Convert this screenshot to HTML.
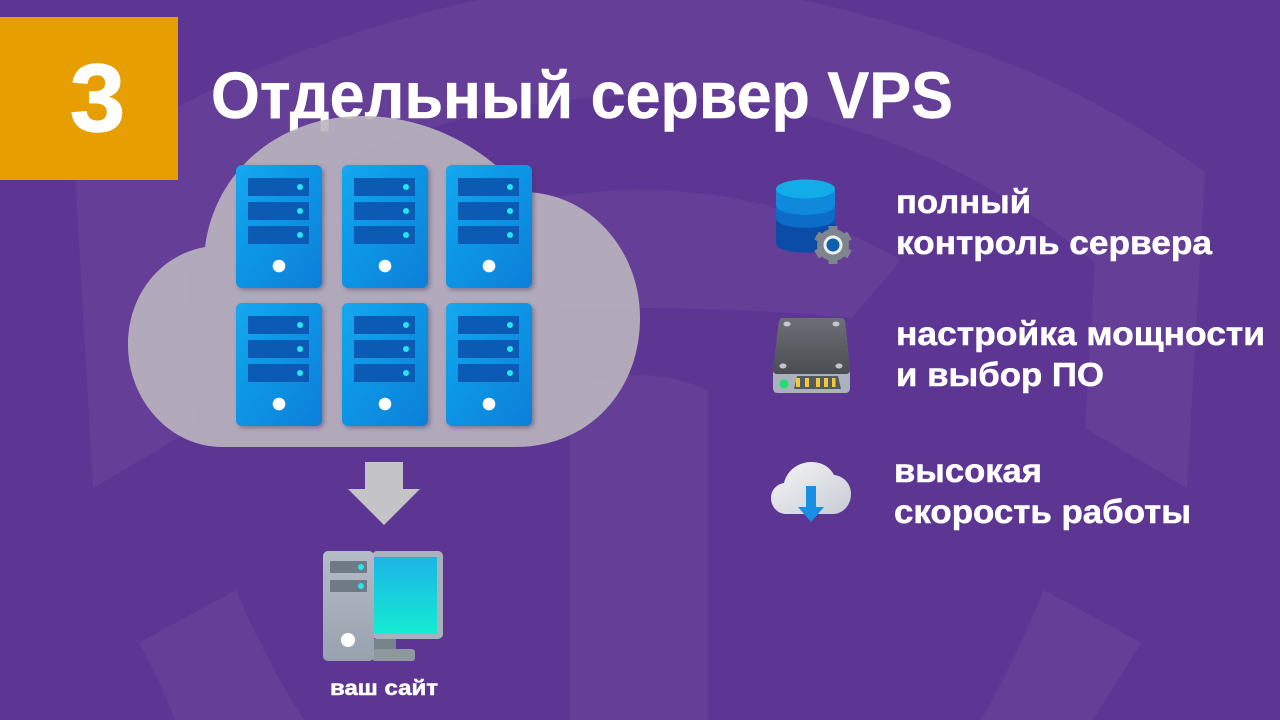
<!DOCTYPE html>
<html><head><meta charset="utf-8"><style>
html,body{margin:0;padding:0;width:1280px;height:720px;overflow:hidden;background:#5d3694}
svg{display:block}
text{font-family:"Liberation Sans","DejaVu Sans",sans-serif;font-weight:700;fill:#fff;stroke:#fff;stroke-width:.5px}
</style></head><body>
<svg width="1280" height="720" viewBox="0 0 1280 720" xmlns="http://www.w3.org/2000/svg">
<defs>
<linearGradient id="srv" x1="0" y1="0" x2="1" y2="1"><stop offset="0" stop-color="#12a8f0"/><stop offset="1" stop-color="#0f7fd8"/></linearGradient>
<linearGradient id="scr" x1="0" y1="0" x2="0" y2="1"><stop offset="0" stop-color="#1cb4e6"/><stop offset="1" stop-color="#14ecd2"/></linearGradient>
<linearGradient id="tower" x1="0" y1="0" x2="0" y2="1"><stop offset="0" stop-color="#b4bcc6"/><stop offset="1" stop-color="#98a2ae"/></linearGradient>
<linearGradient id="hdd" x1="0" y1="0" x2="0" y2="1"><stop offset="0" stop-color="#6c7076"/><stop offset="1" stop-color="#4a4d52"/></linearGradient>
<linearGradient id="cl" x1="0" y1="0" x2="1" y2="1"><stop offset="0" stop-color="#f4f5f7"/><stop offset="1" stop-color="#c8ccd4"/></linearGradient>
<filter id="sh" x="-20%" y="-20%" width="140%" height="140%"><feDropShadow dx="2" dy="2" stdDeviation="2" flood-color="#3a3060" flood-opacity=".45"/></filter>
<g id="s">
<rect x="0" y="0" width="86" height="123" rx="6" fill="url(#srv)" filter="url(#sh)"/>
<rect x="12" y="13" width="61" height="18" fill="#0b5bb4"/>
<rect x="12" y="37" width="61" height="18" fill="#0b5bb4"/>
<rect x="12" y="61" width="61" height="18" fill="#0b5bb4"/>
<circle cx="64" cy="22" r="3" fill="#22e6f4"/><circle cx="64" cy="46" r="3" fill="#22e6f4"/><circle cx="64" cy="70" r="3" fill="#22e6f4"/>
<circle cx="43" cy="101" r="6.3" fill="#fff"/>
</g>
</defs>
<rect width="1280" height="720" fill="#5d3694"/>
<!-- faint background logo -->
<g fill="#643e97">
<path d="M 93 488 L 75 172 Q 150 118 232 80 Q 345 30 477 0 L 803 0 Q 935 30 1048 80 Q 1130 118 1205 172 L 1187 488 L 1085 428 L 1095 263 A 703 703 0 0 0 185 263 L 195 428 Z"/>
<path d="M 379 260 A 521 521 0 0 1 901 260 L 852 318 Q 640 298 428 318 Z"/>
<path d="M 570 720 L 570 390 Q 639 360 708 390 L 708 720 Z"/>
<path d="M 139 643 L 236 590 Q 265 660 304 720 L 175 720 Q 160 680 139 643 Z"/>
<path d="M 1141 643 L 1044 590 Q 1015 660 981 720 L 1093 720 Q 1118 680 1141 643 Z"/>
</g>
<!-- title -->
<text x="211" y="118" font-size="66" textLength="742" lengthAdjust="spacingAndGlyphs">Отдельный сервер VPS</text>
<!-- cloud -->
<path d="M 205 247 C 215 170 280 116 362 116 C 430 116 488 150 522 192 C 590 192 640 250 640 318 C 640 390 590 447 515 447 L 222 447 C 170 447 128 400 128 345 C 128 295 160 255 205 247 Z" fill="#bab6be" fill-opacity=".9"/>
<!-- orange box -->
<rect x="0" y="17" width="178" height="163" fill="#e79e00"/>
<text x="70" y="131" font-size="96" textLength="55" lengthAdjust="spacingAndGlyphs" style="stroke-width:1.5px">3</text>
<!-- servers -->
<use href="#s" x="236" y="165"/><use href="#s" x="342" y="165"/><use href="#s" x="446" y="165"/>
<use href="#s" x="236" y="303"/><use href="#s" x="342" y="303"/><use href="#s" x="446" y="303"/>
<!-- arrow -->
<path d="M 365 462 H 403 V 489 H 420 L 384 525 L 348 489 H 365 Z" fill="#c4c4c6"/>
<!-- computer -->
<rect x="372" y="551" width="71" height="88" rx="5" fill="#a9b1bb"/>
<rect x="373" y="557" width="64" height="77" fill="url(#scr)"/>
<rect x="372" y="639" width="24" height="10" fill="#78848c"/>
<rect x="372" y="649" width="43" height="12" rx="3" fill="#8e989f"/>
<rect x="323" y="551" width="51" height="110" rx="5" fill="url(#tower)"/>
<rect x="330" y="561" width="37" height="12" rx="1" fill="#6f7a84"/>
<rect x="330" y="580" width="37" height="12" rx="1" fill="#6f7a84"/>
<circle cx="361" cy="567" r="3" fill="#22e6f0"/><circle cx="361" cy="586" r="3" fill="#22e6f0"/>
<circle cx="348" cy="640" r="7" fill="#fff"/>
<text x="330" y="695" font-size="21" textLength="108" lengthAdjust="spacingAndGlyphs">ваш сайт</text>
<!-- database icon -->
<path d="M 776 189 V 243 C 776 256 835 256 835 243 V 189 Z" fill="#0b4da6"/>
<path d="M 776 189 V 218 C 776 231 835 231 835 218 V 189 Z" fill="#0c6cc8"/>
<path d="M 776 189 V 205 C 776 218 835 218 835 205 V 189 Z" fill="#1088dc"/>
<ellipse cx="805.500" cy="189" rx="29.500" ry="9.500" fill="#12ace8"/>
<circle cx="833" cy="245" r="16" fill="#7e858c"/>
<g stroke="#7e858c" stroke-width="9">
<path d="M 833 226 V 264 M 816.500 235.500 L 849.500 254.500 M 816.500 254.500 L 849.500 235.500"/>
</g>
<circle cx="833" cy="245" r="9.500" fill="#eef0f3"/>
<circle cx="833" cy="245" r="6.500" fill="#0f5fae"/>
<!-- hdd icon -->
<path d="M 773 372 L 779 322 Q 780 318 784 318 L 840 318 Q 844 318 845 322 L 850 372 L 850 388 Q 850 393 845 393 L 778 393 Q 773 393 773 388 Z" fill="#aab2bc"/>
<path d="M 773 370 L 779 322 Q 780 318 784 318 L 840 318 Q 844 318 845 322 L 850 370 Q 850 374 846 374 L 777 374 Q 773 374 773 370 Z" fill="url(#hdd)"/>
<g fill="#c4c8cc"><ellipse cx="787" cy="324" rx="3.500" ry="2.500"/><ellipse cx="836" cy="324" rx="3.500" ry="2.500"/><ellipse cx="783" cy="366" rx="3.500" ry="2.500"/><ellipse cx="839" cy="366" rx="3.500" ry="2.500"/></g>
<circle cx="784" cy="384" r="4.500" fill="#22e070"/>
<path d="M 794 389 L 797 376 H 838 L 841 389 Z" fill="#555a60"/>
<g fill="#f0c838"><rect x="796" y="378" width="4" height="9"/><rect x="805" y="378" width="4" height="9"/><rect x="816" y="378" width="4" height="9"/><rect x="824" y="378" width="4" height="9"/><rect x="832" y="378" width="3.500" height="9"/></g>
<!-- cloud icon -->
<path d="M 786 514 C 777 514 771 506 771 498 C 771 490 777 484 784 483 C 787 470 799 462 811 462 C 822 462 830 467 834 475 C 844 476 851 484 851 494 C 851 506 842 514 833 514 Z" fill="url(#cl)"/>
<path d="M 806 486 H 816 V 507 H 824 L 811 522 L 798 507 H 806 Z" fill="#1790e4"/>
<!-- texts -->
<g font-size="33">
<text x="896" y="213" textLength="135" lengthAdjust="spacingAndGlyphs">полный</text>
<text x="896" y="254" textLength="316" lengthAdjust="spacingAndGlyphs">контроль сервера</text>
<text x="896" y="345" textLength="369" lengthAdjust="spacingAndGlyphs">настройка мощности</text>
<text x="896" y="386" textLength="208" lengthAdjust="spacingAndGlyphs">и выбор ПО</text>
<text x="894" y="482" textLength="148" lengthAdjust="spacingAndGlyphs">высокая</text>
<text x="894" y="523" textLength="297" lengthAdjust="spacingAndGlyphs">скорость работы</text>
</g>
</svg>
</body></html>
